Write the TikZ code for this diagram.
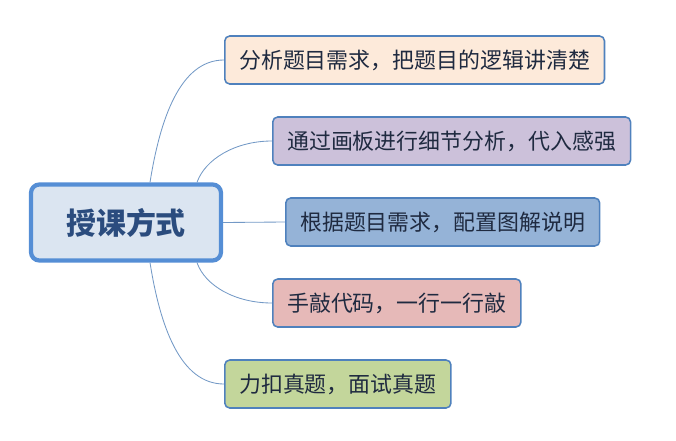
\documentclass[tikz,border=0pt]{standalone}
\usepackage{fontspec}
\usepackage{xcolor}
\usepackage{tikz}
\usetikzlibrary{positioning, calc}
\newfontfamily\cjk{Noto Sans CJK SC}
\definecolor{Ink}{HTML}{1F2A40}
\definecolor{RootInk}{HTML}{2B4C7E}
\definecolor{RootLine}{HTML}{558ED5}
\definecolor{RootFill}{HTML}{DBE5F1}
\definecolor{Line}{HTML}{4F81BD}
\definecolor{Link}{HTML}{7399C6}
\definecolor{SoftPeach}{HTML}{FDEADA}
\definecolor{SoftLilac}{HTML}{CCC1DA}
\definecolor{SoftBlue}{HTML}{95B3D7}
\definecolor{SoftRose}{HTML}{E6B9B8}
\definecolor{SoftOlive}{HTML}{C3D69B}

\begin{document}
\begin{tikzpicture}[
  font=\cjk,
  box/.style={rounded corners=3.5pt, draw=Line, line width=1.1pt, anchor=west, minimum height=1.2cm, inner xsep=0.36cm, text=Ink, font=\cjk\fontsize{15.6pt}{18pt}\selectfont},
  root/.style={rounded corners=6pt, draw=RootLine, line width=3pt, fill=RootFill, minimum width=4.75cm, minimum height=1.9cm, text=RootInk, font=\cjk\bfseries\fontsize{21.3pt}{24pt}\selectfont},
  link/.style={draw=Link, line width=0.6pt}
]
\useasboundingbox (0,0) rectangle (16.9,-11);

\node[root] (root) at (3.15,-5.5625) {授课方式};

\node[box, fill=SoftPeach] (analyse) at (5.6,-1.5) {分析题目需求，把题目的逻辑讲清楚};
\node[box, fill=SoftLilac] (board) at (6.8,-3.525) {通过画板进行细节分析，代入感强};
\node[box, fill=SoftBlue] (figure) at (7.125,-5.55) {根据题目需求，配置图解说明};
\node[box, fill=SoftRose] (code) at (6.8,-7.575) {手敲代码，一行一行敲};
\node[box, fill=SoftOlive] (exam) at (5.6,-9.6) {力扣真题，面试真题};

% branches
\draw[link] ([xshift=0.6cm]root.north) .. controls +(0.25,1.575) and +(-1.1,0) .. (analyse.west);
\draw[link] ([xshift=1.775cm]root.north) .. controls +(0.2,0.575) and +(-0.925,0) .. (board.west);
\draw[link] (root.east) -- (figure.west);
\draw[link] ([xshift=1.775cm]root.south) .. controls +(0.2,-0.575) and +(-0.925,0) .. (code.west);
\draw[link] ([xshift=0.6cm]root.south) .. controls +(0.25,-1.575) and +(-1.1,0) .. (exam.west);
\end{tikzpicture}
\end{document}
